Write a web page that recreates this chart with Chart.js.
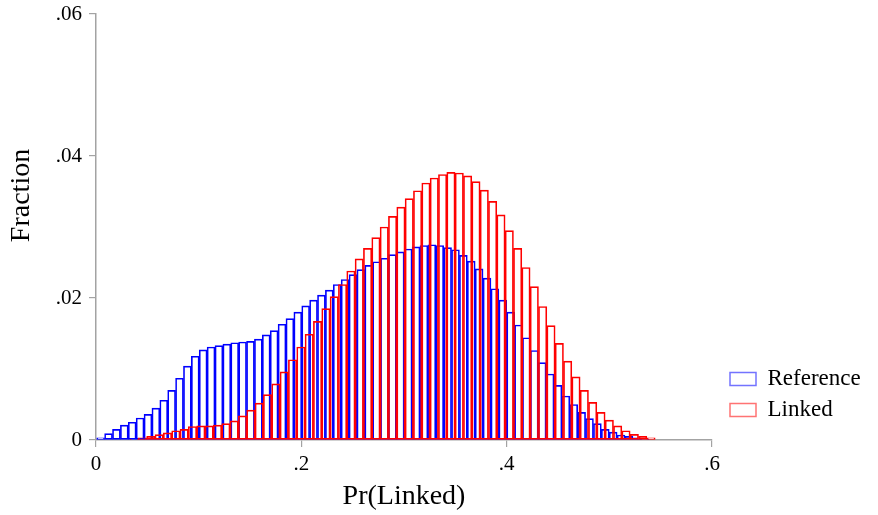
<!DOCTYPE html>
<html>
<head>
<meta charset="utf-8">
<title>Pr(Linked) histogram</title>
<script src="https://cdn.jsdelivr.net/npm/chart.js@4.4.1/dist/chart.umd.min.js"></script>
<style>
html,body{margin:0;padding:0;background:#ffffff;}
#wrap{width:878px;height:515px;}
</style>
</head>
<body>
<div id="wrap"><canvas id="histChart" width="878" height="515"></canvas></div>
<script>

// ===============================
// DATA (fraction per bin)
// ===============================

const refFraction = [
    0.0003, 0.0009, 0.0015, 0.0021, 0.0025, 0.0031, 0.0036, 0.0045, 0.0056, 0.0070,
    0.0087, 0.0104, 0.0118, 0.0127, 0.0131, 0.0133, 0.0135, 0.0137, 0.0138, 0.0139,
    0.0142, 0.0148, 0.0154, 0.0163, 0.0171, 0.0180, 0.0189, 0.0197, 0.0204, 0.0211,
    0.0219, 0.0226, 0.0233, 0.0240, 0.0246, 0.0251, 0.0256, 0.0261, 0.0265, 0.0269,
    0.0272, 0.0274, 0.0275, 0.0274, 0.0271, 0.0268, 0.0260, 0.0252, 0.0241, 0.0228,
    0.0213, 0.0197, 0.0180, 0.0162, 0.0144, 0.0126, 0.0109, 0.0093, 0.0077, 0.0062,
    0.0050, 0.0039, 0.0030, 0.0023, 0.0015, 0.0011, 0.0007, 0.0005, 0.0003, 0.00015
];

const linkedFraction = [
    0.0001, 0.0003, 0.0005, 0.00075, 0.0010, 0.0013, 0.0015, 0.0019, 0.0020, 0.0020,
    0.0021, 0.0023, 0.0027, 0.0034, 0.0042, 0.0052, 0.0064, 0.0079, 0.0096, 0.0113,
    0.0131, 0.0149, 0.0167, 0.0185, 0.0202, 0.0219, 0.0238, 0.0255, 0.0270, 0.0285,
    0.0300, 0.0315, 0.0328, 0.0340, 0.0351, 0.0362, 0.0369, 0.0374, 0.0377, 0.0376,
    0.0372, 0.0364, 0.0352, 0.0336, 0.0317, 0.0295, 0.0270, 0.0243, 0.0216, 0.0188,
    0.0161, 0.0136, 0.0111, 0.0089, 0.0070, 0.0053, 0.0039, 0.0028, 0.0020, 0.0013,
    0.0008, 0.0005, 0.0003
];

// histogram bins (start, width)
const refBinStart = 0.0007;
const refBinWidth = 0.00768;

const linkedBinStart = 0.0331;
const linkedBinWidth = 0.00812;

const seriesNames = ["Reference", "Linked"];

const xTicks = [0, 0.2, 0.4, 0.6];
const yTicks = [0, 0.02, 0.04, 0.06];

// ===============================
// STYLE
// ===============================

const FONT_FAMILY = "'Liberation Serif', 'Times New Roman', serif";
const AXIS_GRAY = "#a3a3a3";
const BLUE = "#0000ff";
const RED = "#ff0000";

const TICK_FONT_SIZE = 21;
const TITLE_FONT_SIZE = 28;

const LEGEND_FONT_SIZE = 23;
const LEGEND_PAD = 8;
const LEGEND_BOX_W = 26;

// ===============================
// HELPERS
// ===============================

function toPoints(values, start, width){

    return values.map((v,i)=>({

        x: start + (i + 0.5) * width,

        y: v

    }));

}

// bar width in pixels = one bin on the x scale
function binThickness(width){

    return function(ctx){

        const xs = ctx.chart.scales.x;

        if(!xs || !xs.width){ return 8; }

        return Math.abs(xs.getPixelForValue(width) - xs.getPixelForValue(0));

    };

}

function stripZero(v){

    const s = String(Number(v.toFixed(3)));

    return s === "0" ? "0" : s.replace(/^0\./, ".");

}

// right padding so the plot ends where the reference plot ends
const measure = document.createElement("canvas").getContext("2d");
measure.font = LEGEND_FONT_SIZE + "px " + FONT_FAMILY;

const legendTextW = Math.max(...seriesNames.map(t => measure.measureText(t).width));
const legendW = LEGEND_PAD + LEGEND_BOX_W + LEGEND_FONT_SIZE / 2 + legendTextW + 10;
const rightPad = Math.max(0, 878 - 712 - legendW);

// nudge legend block to the reference spot
const legendNudge = {

    id: "legendNudge",

    afterLayout(chart){

        const lg = chart.legend;

        if(!lg){ return; }

        const dx = 730 - (lg.left + LEGEND_PAD);

        lg.left += dx;
        lg.right += dx;

        lg.top -= 10.5;
        lg.bottom -= 10.5;

    }

};

// ===============================
// CHART
// ===============================

const ctx = document.getElementById("histChart").getContext("2d");

const chart = new Chart(ctx,{

    type: "bar",

    data: {

        datasets: [{

            label: seriesNames[0],

            data: toPoints(refFraction, refBinStart, refBinWidth),

            backgroundColor: "rgba(255,255,255,0)",

            borderColor: BLUE,

            borderWidth: 1,

            borderSkipped: false,

            barThickness: binThickness(refBinWidth),

            grouped: false,

            order: 1

        },{

            label: seriesNames[1],

            data: toPoints(linkedFraction, linkedBinStart, linkedBinWidth),

            backgroundColor: "rgba(255,255,255,0)",

            borderColor: RED,

            borderWidth: 1,

            borderSkipped: false,

            barThickness: binThickness(linkedBinWidth),

            grouped: false,

            order: 0

        }]

    },

    options: {

        responsive: false,

        devicePixelRatio: 1,

        animation: false,

        layout: {

            padding: { top: 14, left: 0, bottom: 0, right: rightPad }

        },

        plugins: {

            legend: {

                display: true,

                position: "right",

                align: "end",

                fullSize: false,

                reverse: true,

                labels: {

                    boxWidth: LEGEND_BOX_W,

                    boxHeight: 13,

                    padding: LEGEND_PAD,

                    color: "#000",

                    font: { family: FONT_FAMILY, size: LEGEND_FONT_SIZE },

                    generateLabels(c){

                        const items = Chart.defaults.plugins.legend.labels.generateLabels(c);

                        items.forEach(it=>{

                            const col = it.datasetIndex === 0 ? "rgba(40,40,255,0.65)" : "rgba(255,40,40,0.65)";

                            it.fillStyle = "#ffffff";

                            it.strokeStyle = col;

                            it.lineWidth = 1.5;

                        });

                        return items;

                    }

                }

            },

            tooltip: { enabled: false }

        },

        scales: {

            x: {

                type: "linear",

                min: 0,

                max: 0.6,

                offset: false,

                afterBuildTicks(s){ s.ticks = xTicks.map(v => ({ value: v })); },

                afterFit(s){ s.height = 75; },

                grid: {

                    offset: false,

                    drawOnChartArea: false,

                    drawTicks: true,

                    tickLength: 7,

                    color: AXIS_GRAY,

                    lineWidth: 1.2

                },

                border: { display: true, color: AXIS_GRAY, width: 1.5 },

                ticks: {

                    color: "#000",

                    padding: 5,

                    maxRotation: 0,

                    font: { family: FONT_FAMILY, size: TICK_FONT_SIZE },

                    callback: v => stripZero(v)

                },

                title: {

                    display: true,

                    text: "Pr(Linked)",

                    color: "#000",

                    font: { family: FONT_FAMILY, size: TITLE_FONT_SIZE },

                    padding: { top: 2, bottom: 2 }

                }

            },

            y: {

                min: 0,

                max: 0.06,

                afterBuildTicks(s){ s.ticks = yTicks.map(v => ({ value: v })); },

                afterFit(s){

                    s.width = 96;

                    // top label may overhang; plot top comes from layout padding
                    s.paddingTop = 0;
                    s.paddingBottom = 0;

                },

                grid: {

                    drawOnChartArea: false,

                    drawTicks: true,

                    tickLength: 7,

                    color: AXIS_GRAY,

                    lineWidth: 1.2

                },

                border: { display: true, color: AXIS_GRAY, width: 1.5 },

                ticks: {

                    color: "#000",

                    padding: 7,

                    font: { family: FONT_FAMILY, size: TICK_FONT_SIZE },

                    callback: v => stripZero(v)

                },

                title: {

                    display: true,

                    // leading spaces lift the label like in the reference
                    text: "         Fraction",

                    color: "#000",

                    font: { family: FONT_FAMILY, size: TITLE_FONT_SIZE },

                    padding: { top: 5, bottom: 4 }

                }

            }

        }

    },

    plugins: [legendNudge]

});

</script>
</body>
</html>
